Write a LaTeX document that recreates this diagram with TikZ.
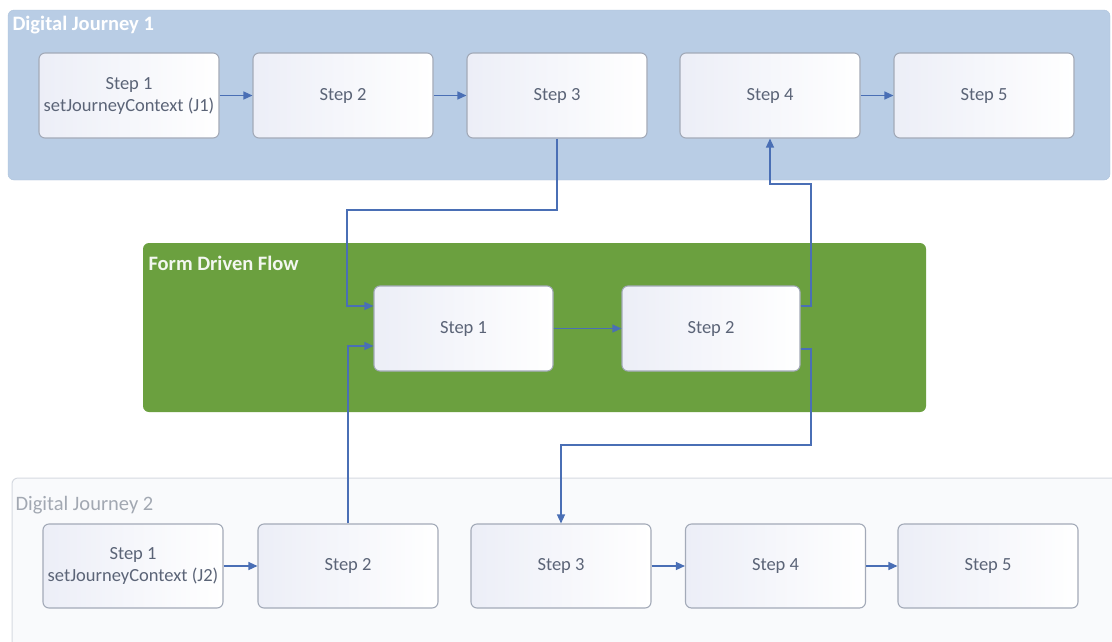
\documentclass[tikz,border=0pt]{standalone}
\usepackage{fontspec}
\setmainfont{Carlito}
\usetikzlibrary{arrows.meta,calc}
\definecolor{journeyblue}{HTML}{B9CDE5}
\definecolor{journeyedge}{HTML}{AFC3DC}
\definecolor{formgreen}{HTML}{6BA03F}
\definecolor{paleback}{HTML}{F9FAFC}
\definecolor{paleedge}{HTML}{D6DAE1}
\definecolor{boxedge}{HTML}{A3AAB8}
\definecolor{boxtint}{HTML}{ECEEF7}
\definecolor{boxtext}{HTML}{5B6477}
\definecolor{linkblue}{HTML}{4A6FB5}
\definecolor{mutedtitle}{HTML}{A2A8B2}
\begin{document}
\begin{tikzpicture}[x=1pt,y=-1pt,
  stepbox/.style={draw=boxedge, line width=1.1pt, rounded corners=6pt,
    left color=boxtint, right color=white,
    minimum width=180pt, minimum height=85pt, align=center,
    text=boxtext, font=\fontsize{18.5}{22}\selectfont, inner sep=2pt},
  conn/.style={draw=linkblue, line width=1.3pt, -{Triangle[length=9pt,width=8pt]}},
  paneltitle/.style={anchor=west, font=\fontsize{20.5}{24}\selectfont\bfseries}
]
\useasboundingbox (0,0) rectangle (1112,641);
\clip (0,0) rectangle (1112,641);
\fill[white] (0,0) rectangle (1112,641);

% Digital Journey 1 lane
\filldraw[fill=journeyblue, draw=journeyedge, rounded corners=6pt] (8,10) rectangle (1110,180);
\node[paneltitle, text=white] (dj1title) at (9,25) {Digital Journey 1};

% Form Driven Flow lane
\fill[formgreen, rounded corners=6pt] (143,243) rectangle (926,412);
\node[paneltitle, text=white!92!formgreen] (fdftitle) at (145,263) {Form Driven Flow};

% Digital Journey 2 lane
\filldraw[fill=paleback, draw=paleedge, line width=1pt, rounded corners=6pt] (12,478) rectangle (1130,680);
\node[paneltitle, text=mutedtitle, font=\fontsize{20.5}{24}\selectfont] (dj2title) at (12,505) {Digital Journey 2};

% Journey 1 steps
\node[stepbox] (t1) at (129,95.5) {Step 1\\setJourneyContext (J1)};
\node[stepbox] (t2) at (343,95.5) {Step 2};
\node[stepbox] (t3) at (557,95.5) {Step 3};
\node[stepbox] (t4) at (770,95.5) {Step 4};
\node[stepbox] (t5) at (984,95.5) {Step 5};

% Form steps
\node[stepbox, minimum width=179pt] (g1) at (463.5,328.5) {Step 1};
\node[stepbox, minimum width=178pt] (g2) at (711,328.5) {Step 2};

% Journey 2 steps
\node[stepbox, minimum height=84pt] (d1) at (133,566) {Step 1\\setJourneyContext (J2)};
\node[stepbox, minimum height=84pt] (d2) at (348,566) {Step 2};
\node[stepbox, minimum height=84pt] (d3) at (561,566) {Step 3};
\node[stepbox, minimum height=84pt] (d4) at (775.5,566) {Step 4};
\node[stepbox, minimum height=84pt] (d5) at (988,566) {Step 5};

% sequential links
\draw[conn] (t1) -- (t2);
\draw[conn] (t2) -- (t3);
\draw[conn] (t4) -- (t5);
\draw[conn] (g1) -- (g2);
\draw[conn] (d1) -- (d2);
\draw[conn] (d3) -- (d4);
\draw[conn] (d4) -- (d5);

% hand-offs between the journeys and the form flow
\draw[conn] (t3.south) |- (347,210) |- ([yshift=22.5pt]g1.west);
\draw[conn] (d2.north) |- ([yshift=-17.5pt]g1.west);
\draw[conn] ([yshift=22.5pt]g2.east) -| (811,184) -| (t4.south);
\draw[conn] ([yshift=-20.5pt]g2.east) -| (811,445) -| (d3.north);
\end{tikzpicture}
\end{document}
